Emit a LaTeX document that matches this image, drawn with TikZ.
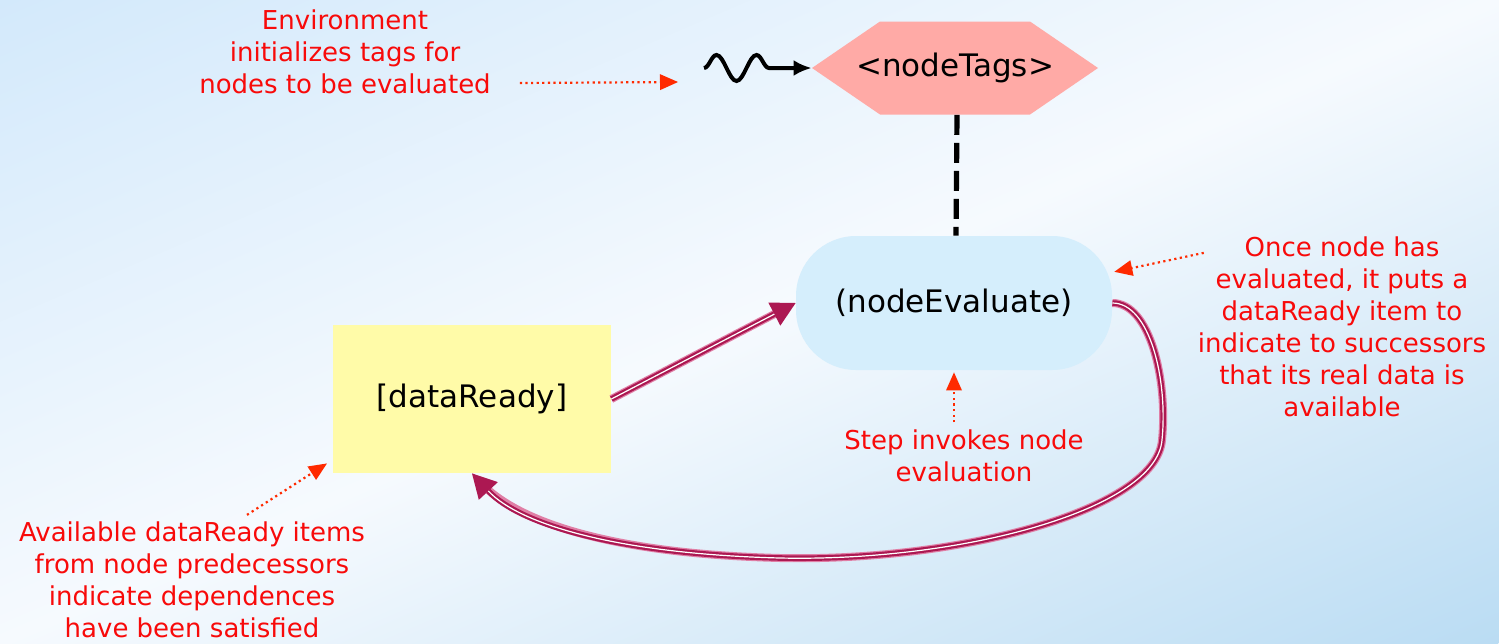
\documentclass[tikz,border=0pt]{standalone}
\usepackage{fontspec}
\setmainfont{DejaVu Sans}
\usetikzlibrary{positioning,arrows.meta,decorations.pathmorphing}

\definecolor{tagpink}{HTML}{FFAAA6}
\definecolor{evalblue}{HTML}{D5EEFC}
\definecolor{readyyellow}{HTML}{FFFBA8}
\definecolor{notered}{HTML}{F80A0A}
\definecolor{notearrow}{HTML}{FF2A00}
\definecolor{flowdark}{HTML}{AC1852}
\definecolor{flowlight}{HTML}{E07FA6}
\definecolor{bgblue}{HTML}{D3E9FB}
\definecolor{bgblue2}{HTML}{BADCF3}
\definecolor{bgwhite}{HTML}{F6FAFE}

\tikzset{
	item/.style={font=\fontsize{15.5}{18}\selectfont, inner sep=0pt},
	hexa/.style={item, minimum width=143pt, minimum height=46.5pt,
		path picture={\fill[tagpink] (path picture bounding box.west)
			-- ([xshift=34pt]path picture bounding box.north west)
			-- ([xshift=-34pt]path picture bounding box.north east)
			-- (path picture bounding box.east)
			-- ([xshift=-34pt]path picture bounding box.south east)
			-- ([xshift=34pt]path picture bounding box.south west) -- cycle;}},
	note/.style={text=notered, align=center, font=\fontsize{13}{16}\selectfont},
	hint/.style={draw=notearrow, line width=1.1pt, dash pattern=on 1.1pt off 1.7pt,
		-{Triangle[length=9pt,width=8pt,line width=0pt]}, shorten >=1pt},
	flow/.style={draw=flowdark, line width=2.8pt,
		-{Triangle[length=12pt,width=13pt,line width=0pt]},
		preaction={draw=flowlight, line width=4pt, arrows=-, shorten >=6pt},
		postaction={draw=white, line width=0.6pt, arrows=-, shorten >=12pt}},
}

\begin{document}
\begin{tikzpicture}[x=0.5pt,y=-0.5pt]
	% backdrop: blue in two opposite corners, pale in between
	\begin{scope}
		\clip (0,0) rectangle (1499,643);
		\shade[transform canvas={rotate around={23.2:(749.5,321.5)}},
			top color=bgblue, bottom color=bgblue2, middle color=bgwhite] (-70.5,-269.5) rectangle (1569.5,912.5);
	\end{scope}
	\useasboundingbox (0,0) rectangle (1499,643);

	\node (tags) [hexa] at (955,68) {<nodeTags>};
	\node (eval) [item, fill=evalblue, rounded corners=30pt,
		minimum width=158pt, minimum height=67pt] at (954,303) {(nodeEvaluate)};
	\node (ready) [item, fill=readyyellow, minimum width=139pt, minimum height=74pt] at (472,399) {[dataReady]};

	\node (envlbl) [note] at (345,52) {Environment\\initializes tags for\\nodes to be evaluated};
	\node (oncelbl) [note] at (1342,327) {Once node has\\evaluated, it puts a\\dataReady item to\\indicate to successors\\that its real data is\\available};
	\node (steplbl) [note, below=26pt of eval, xshift=5pt] {Step invokes node\\evaluation};
	\node (availlbl) [note] at (192,580) {Available dataReady items\\from node predecessors\\indicate dependences\\have been satisfied};

	\coordinate (wave) at (704,68);
	\coordinate (envtip) at (680,82);

	\draw[line width=2pt, -{Latex[length=9pt,width=8pt]}, decorate,
		decoration={snake, amplitude=6.5pt, segment length=20pt, post length=14pt}] (wave) -- (tags.west);
	\draw[line width=2.6pt, dash pattern=on 10pt off 4pt] ([xshift=1pt]tags.south) -- ([xshift=1pt]eval.north);

	\path (ready.east) edge[flow] (eval.west);
	\draw[flow] (eval.east) .. controls (1150,303) and (1168,380) .. (1162,440)
		.. controls (1156,510) and (960,562) .. (780,558)
		.. controls (620,554) and (520,525) .. (ready.south);

	\draw[hint] ([shift={(22,31)}]envlbl.east) -- (envtip);
	\draw[hint] ([shift={(13,23)}]oncelbl.north west) -- (eval.11);
	\draw[hint] (steplbl.north -| eval.south) -- (eval.south);
	\draw[hint] ([shift={(55,0)}]availlbl.north) -- ([shift={(-4,-11)}]ready.south west);
\end{tikzpicture}
\end{document}
